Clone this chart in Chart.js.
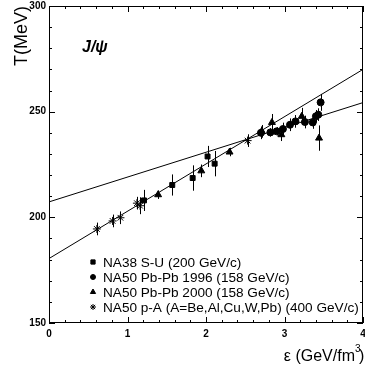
<!DOCTYPE html>
<html>
<head>
<meta charset="utf-8">
<script src="https://cdn.jsdelivr.net/npm/chart.js@4/dist/chart.umd.min.js"></script>
<style>
  html, body { margin: 0; padding: 0; background: #fff; }
</style>
</head>
<body>
<canvas id="jpsi" width="365" height="366"></canvas>
<script>
// NA38 S-U (200 GeV/c)
const suEps = [1.21, 1.57, 1.83, 2.02, 2.11];
const suT   = [208, 215.3, 218.6, 228.8, 225.4];
const suErr = [5, 5, 6, 5, 6];

// NA50 Pb-Pb 1996 (158 GeV/c)
const pb96Eps = [2.70, 2.82, 2.90, 2.98, 3.07, 3.14, 3.26, 3.36, 3.40, 3.43, 3.46];
const pb96T   = [240, 240.2, 240.7, 241.8, 243.8, 245.4, 245.1, 244.9, 247.8, 248.6, 254.4];
const pb96Err = [3, 2, 2, 3, 3, 3, 3, 3, 3, 3, 4];

// NA50 Pb-Pb 2000 (158 GeV/c)
const pb00Eps = [1.39, 1.94, 2.30, 2.71, 2.84, 2.96, 3.22, 3.44];
const pb00T   = [210.7, 222, 230.9, 240.7, 244.9, 239.1, 247.8, 237.5];
const pb00Err = [2, 3, 2, 3, 4, 3, 4, 6];

// NA50 p-A (400 GeV/c)
const paEps = [0.61, 0.81, 0.91, 1.12, 1.16, 2.53];
const paT   = [194.5, 198.3, 199.8, 206.7, 205.5, 236.3];
const paErr = [3, 3, 3, 3, 4, 3];

// the two straight fits, end points at eps = 0 and 4
const fitEps = [0, 4];
const steepT = [180.5, 270];
const flatT  = [207.3, 254.3];

const legendLabels = [
  "NA38 S-U (200 GeV/c)",
  "NA50 Pb-Pb 1996 (158 GeV/c)",
  "NA50 Pb-Pb 2000 (158 GeV/c)",
  "NA50 p-A (A=Be,Al,Cu,W,Pb) (400 GeV/c)",
];

const FONT = "'Liberation Sans', Arial, sans-serif";
const pts = (xs, ys) => xs.map((x, i) => ({ x, y: ys[i] }));

function markerSet(label, xs, ys, errs, style, radius) {
  return {
    type: "scatter",
    label,
    data: pts(xs, ys),
    errors: errs,
    pointStyle: style,
    pointRadius: radius,
    pointBackgroundColor: "#000",
    pointBorderColor: "#000",
    pointBorderWidth: 1,
  };
}

function fitLine(ys) {
  return {
    type: "line",
    data: pts(fitEps, ys),
    borderColor: "#000",
    borderWidth: 1,
    pointRadius: 0,
    fill: false,
  };
}

const datasets = [
  fitLine(steepT),
  fitLine(flatT),
  markerSet(legendLabels[0], suEps, suT, suErr, "rect", 3.5),
  markerSet(legendLabels[1], pb96Eps, pb96T, pb96Err, "circle", 3.5),
  markerSet(legendLabels[2], pb00Eps, pb00T, pb00Err, "triangle", 4),
  markerSet(legendLabels[3], paEps, paT, paErr, "star", 4),
];

const decor = {
  id: "decor",
  beforeDatasetsDraw(chart) {
    const { ctx, scales: { x, y } } = chart;
    ctx.save();
    ctx.strokeStyle = "#000";
    ctx.lineWidth = 1;
    chart.data.datasets.forEach(ds => {
      if (!ds.errors) return;
      ds.data.forEach((p, j) => {
        const px = Math.round(x.getPixelForValue(p.x)) + 0.5;
        ctx.beginPath();
        ctx.moveTo(px, y.getPixelForValue(p.y - ds.errors[j]));
        ctx.lineTo(px, y.getPixelForValue(p.y + ds.errors[j]));
        ctx.stroke();
      });
    });
    ctx.restore();
  },
  afterDraw(chart) {
    const { ctx, chartArea: a, scales: { x, y } } = chart;
    ctx.save();
    ctx.strokeStyle = "#000";
    ctx.lineWidth = 1;
    ctx.strokeRect(a.left + 0.5, a.top + 0.5, a.right - a.left - 1, a.bottom - a.top - 1);

    // inward ticks
    ctx.beginPath();
    for (let v = 150; v <= 300; v += 10) {
      const py = Math.round(y.getPixelForValue(v)) + 0.5;
      const len = v % 50 === 0 ? 6 : 3;
      ctx.moveTo(a.left, py); ctx.lineTo(a.left + len, py);
      ctx.moveTo(a.right, py); ctx.lineTo(a.right - len, py);
    }
    for (let k = 0; k <= 20; k++) {
      const px = Math.round(x.getPixelForValue(k * 0.2)) + 0.5;
      const len = k % 5 === 0 ? 6 : 3;
      ctx.moveTo(px, a.bottom); ctx.lineTo(px, a.bottom - len);
      ctx.moveTo(px, a.top); ctx.lineTo(px, a.top + len);
    }
    ctx.stroke();

    ctx.fillStyle = "#000";
    ctx.textBaseline = "alphabetic";

    // J/psi label
    ctx.font = `italic bold 16px ${FONT}`;
    ctx.textAlign = "left";
    ctx.fillText("J/ψ", 82, 52);

    // axis titles
    ctx.font = `16px ${FONT}`;
    ctx.textAlign = "right";
    ctx.fillText("ε (GeV/fm", 355, 361);
    ctx.font = `10px ${FONT}`;
    ctx.textAlign = "left";
    ctx.fillText("3", 355, 352);
    ctx.font = `16px ${FONT}`;
    ctx.fillText(")", 359, 361);

    ctx.save();
    ctx.translate(27, 6);
    ctx.rotate(-Math.PI / 2);
    ctx.font = `18px ${FONT}`;
    ctx.textAlign = "right";
    ctx.fillText("T(MeV)", 0, 0);
    ctx.restore();

    // legend
    const markers = [
      { pointStyle: "rect", radius: 3 },
      { pointStyle: "circle", radius: 2.5 },
      { pointStyle: "triangle", radius: 3 },
      { pointStyle: "star", radius: 3 },
    ];
    ctx.font = `13.6px ${FONT}`;
    ctx.textAlign = "left";
    legendLabels.forEach((txt, i) => {
      const cy = 262 + i * 15;
      ctx.fillStyle = "#000";
      ctx.strokeStyle = "#000";
      Chart.helpers.drawPoint(ctx, { ...markers[i], borderWidth: 1, rotation: 0 }, 93, cy);
      ctx.fillText(txt, 103, cy + 5);
    });
    ctx.restore();
  },
};

new Chart(document.getElementById("jpsi"), {
  type: "scatter",
  data: { datasets },
  options: {
    responsive: false,
    animation: false,
    layout: { autoPadding: false, padding: { top: 6, right: 2, left: 0, bottom: 0 } },
    plugins: { legend: { display: false }, tooltip: { enabled: false } },
    scales: {
      x: {
        type: "linear",
        min: 0,
        max: 4,
        afterFit: s => { s.height = 43; s.paddingLeft = 0; s.paddingRight = 0; },
        grid: { display: false, drawTicks: false },
        border: { display: false },
        ticks: {
          stepSize: 1,
          padding: 5,
          color: "#000",
          font: { family: FONT, size: 10, weight: "bold" },
        },
      },
      y: {
        type: "linear",
        min: 150,
        max: 300,
        afterFit: s => { s.width = 49; s.paddingTop = 0; s.paddingBottom = 0; },
        grid: { display: false, drawTicks: false },
        border: { display: false },
        ticks: {
          stepSize: 50,
          padding: 3,
          color: "#000",
          font: { family: FONT, size: 10, weight: "bold" },
        },
      },
    },
  },
  plugins: [decor],
});
</script>
</body>
</html>
